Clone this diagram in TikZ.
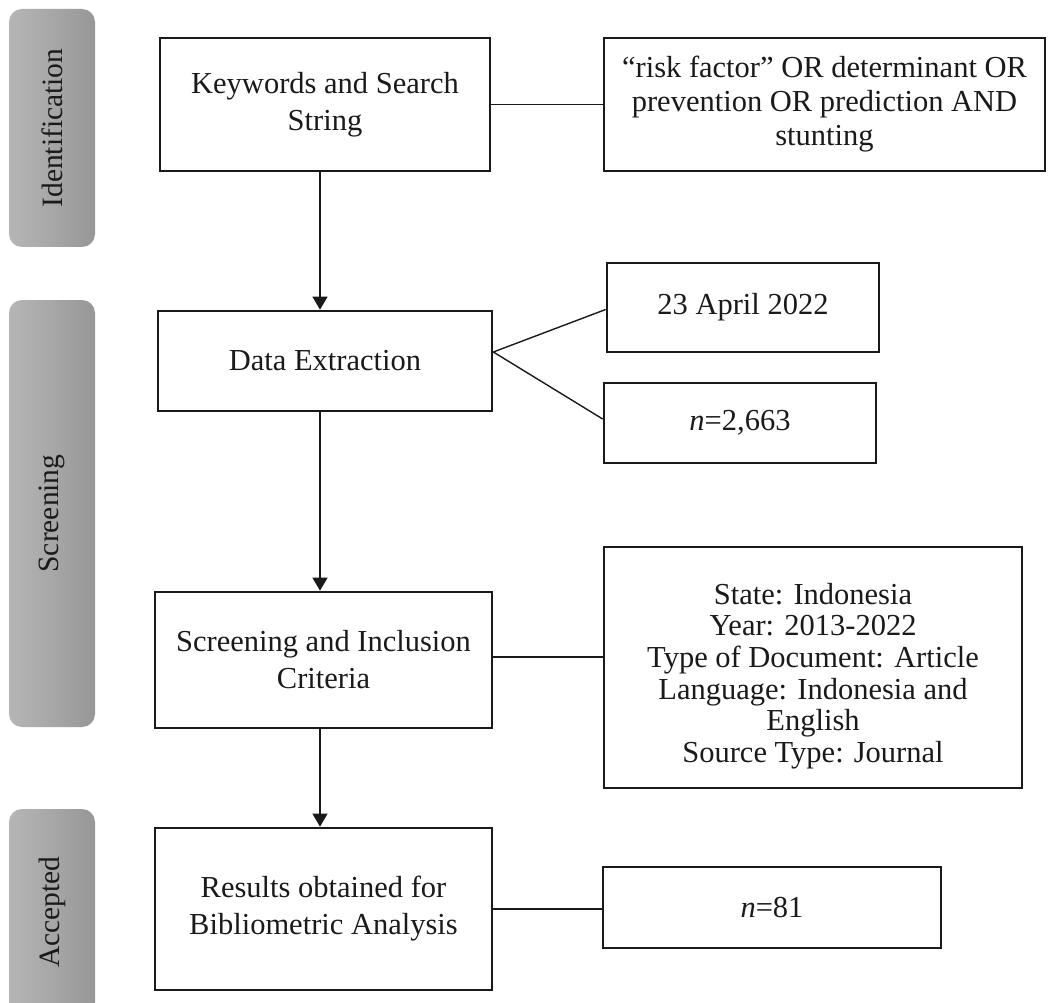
\documentclass[tikz,border=0pt]{standalone}
\usepackage{fontspec}
\setmainfont{Liberation Serif}
\usetikzlibrary{arrows.meta}
\definecolor{ink}{HTML}{1A1A1A}
\definecolor{barL}{HTML}{B6B6B6}
\definecolor{barR}{HTML}{979797}
\tikzset{
  box/.style={draw=ink, line width=2.7pt, fill=white, align=center, text=ink,
    inner sep=4pt, font=\fontsize{30.5}{37}\selectfont},
  rbox/.style={box, font=\fontsize{30.5}{34}\selectfont},
  ctext/.style={align=center, text=ink, inner sep=0pt, font=\fontsize{30.5}{31.6}\selectfont},
  bar/.style={rounded corners=13pt, left color=barL, right color=barR, draw=none,
    text=ink, font=\fontsize{29.5}{34}\selectfont, inner sep=0pt},
  conn/.style={draw=ink, line width=1.4pt},
  arr/.style={conn, -{Triangle[length=13pt,width=15pt]}}
}
\begin{document}
\begin{tikzpicture}[x=1pt,y=-1pt]
\useasboundingbox (0,0) rectangle (1055,1003);
\fill[white] (0,0) rectangle (1055,1003);

% side bars
\node[bar, minimum width=86pt, minimum height=238pt] (bid) at (52,128) {\rotatebox{90}{Identification}};
\node[bar, minimum width=86pt, minimum height=427pt] (bsc) at (52,513.5) {\rotatebox{90}{Screening}};
\node[bar, minimum width=86pt, minimum height=206pt] (bac) at (52,912) {\rotatebox{90}{Accepted}};

% left column
\node[box, minimum width=330pt, minimum height=133pt] (kw) at (325,104.5) {Keywords and Search\\String};
\node[box, minimum width=334pt, minimum height=100pt] (de) at (325,361) {Data Extraction};
\node[box, minimum width=337pt, minimum height=136pt] (scr) at (323.5,660) {Screening and Inclusion\\Criteria};
\node[box, minimum width=337pt, minimum height=162pt] (res) at (323.5,909) {Results obtained for\\Bibliometric Analysis};

% right column
\node[rbox, minimum width=441pt, minimum height=133pt] (risk) at (824.5,104.5) {“risk factor” OR determinant OR\\prevention OR prediction AND\\stunting};
\node[rbox, minimum width=272pt, minimum height=89pt] (apr) at (743,307.5) {23 April 2022};
\node[rbox, minimum width=272pt, minimum height=80pt] (nb) at (740,423) {\textit{n}=2,663};
\node[box, minimum width=418pt, minimum height=241pt] (crit) at (813,667.5) {};
\node[ctext] (critt) at (813,676) {State: Indonesia\\Year: 2013-2022\\Type of Document: Article\\Language: Indonesia and\\English\\Source Type: Journal};
\node[rbox, minimum width=338pt, minimum height=81pt] (ne) at (772,907.5) {\textit{n}=81};

% connectors
\coordinate (ax) at (320,0);
\coordinate (dep) at ([yshift=9pt]de.east);
\coordinate (sep) at ([yshift=3pt]scr.east);
\draw[arr] (kw.south -| ax) -- (de.north -| ax);
\draw[arr] (de.south -| ax) -- (scr.north -| ax);
\draw[arr] (scr.south -| ax) -- (res.north -| ax);
\draw[conn] (kw.east) -- (risk.west |- kw.east);
\draw[conn] (dep) -- ([yshift=-2pt]apr.west);
\draw[conn] (dep) -- ([yshift=4pt]nb.west);
\draw[conn] (sep) -- (crit.west |- sep);
\draw[conn] (res.east) -- (ne.west |- res.east);
\end{tikzpicture}
\end{document}
